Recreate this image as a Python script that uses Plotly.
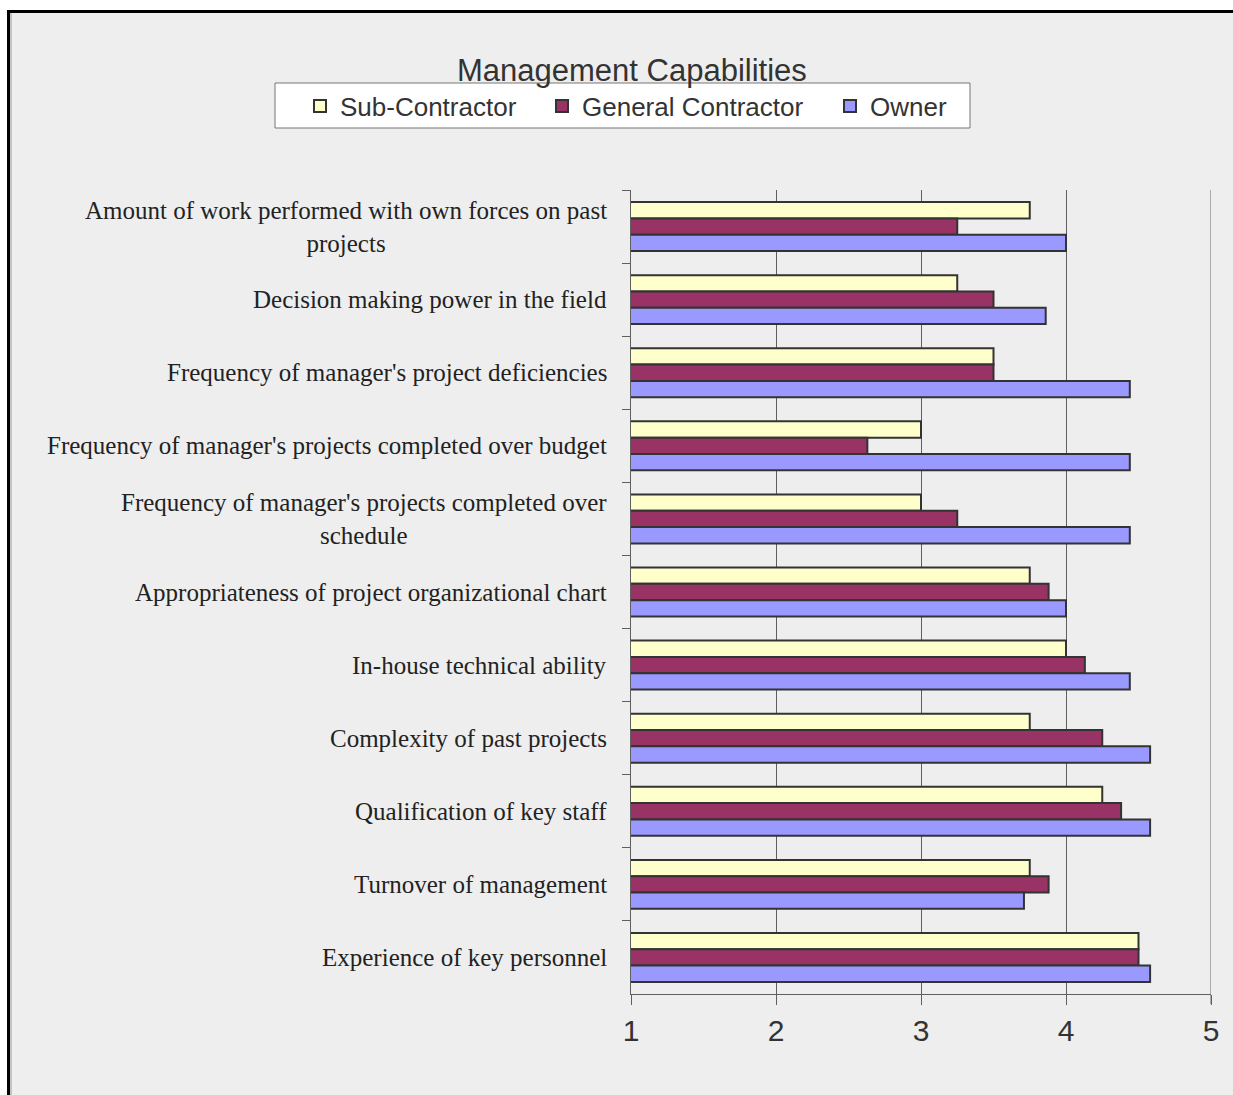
import plotly.graph_objects as go

# Rating categories, top to bottom
categories = [
    "Amount of work performed with own forces on past<br>projects",
    "Decision making power in the field",
    "Frequency of manager's project deficiencies",
    "Frequency of manager's projects completed over budget",
    "Frequency of manager's projects completed over<br>schedule",
    "Appropriateness of project organizational chart",
    "In-house technical ability",
    "Complexity of past projects",
    "Qualification of key staff",
    "Turnover of management",
    "Experience of key personnel",
]

sub_contractor = [3.75, 3.25, 3.5, 3.0, 3.0, 3.75, 4.0, 3.75, 4.25, 3.75, 4.5]
general_contractor = [3.25, 3.5, 3.5, 2.63, 3.25, 3.88, 4.13, 4.25, 4.38, 3.88, 4.5]
owner = [4.0, 3.86, 4.44, 4.44, 4.44, 4.0, 4.44, 4.58, 4.58, 3.71, 4.58]

series_names = ["Sub-Contractor", "General Contractor", "Owner"]
series_colors = ["#FFFFCC", "#993366", "#9999FF"]
legend_widths = [197, 243, 90]
x_ticks = [1, 2, 3, 4, 5]

W, H = 1233, 1095
L, R, T, B = 631, 22, 190, 101
PW, PH = W - L - R, H - T - B


def px_x(p):
    return (p - L) / PW


def px_y(p):
    return (H - B - p) / PH


fig = go.Figure()
for name, vals, col, lw in zip(series_names, [sub_contractor, general_contractor, owner],
                               series_colors, legend_widths):
    fig.add_trace(go.Bar(
        name=name, y=categories, x=vals, orientation="h",
        marker=dict(color=col, line=dict(color="#333333", width=2)),
        legendwidth=lw,
    ))

# category labels (centred multi-line text, right-aligned block)
annotations = [
    dict(text=c, x=px_x(609), xref="paper", y=c, yref="y", xanchor="right",
         yanchor="middle", align="center", showarrow=False,
         font=dict(family="Liberation Serif", size=25, color="#222222"))
    for c in categories
]
annotations.append(dict(
    text="Management Capabilities", x=px_x(632), y=px_y(70), xref="paper", yref="paper",
    xanchor="center", yanchor="middle", showarrow=False,
    font=dict(family="Liberation Sans", size=31, color="#333333")))

shapes = [
    # outer frame
    dict(type="rect", xref="paper", yref="paper", x0=px_x(8.5), x1=px_x(1260),
         y0=px_y(1120), y1=px_y(11.5), line=dict(color="black", width=3),
         fillcolor="#EEEEEE", layer="below"),
    dict(type="line", xref="paper", yref="paper", x0=px_x(11), x1=px_x(11),
         y0=px_y(1120), y1=px_y(13), line=dict(color="#999999", width=1), layer="below"),
    # legend box
    dict(type="rect", xref="paper", yref="paper", x0=px_x(275), x1=px_x(970),
         y0=px_y(128), y1=px_y(83), line=dict(color="#777777", width=1),
         fillcolor="white", layer="below"),
    # right edge line at x = 5
    dict(type="line", xref="x", yref="paper", x0=5, x1=5, y0=px_y(1004), y1=1,
         line=dict(color="#666666", width=1)),
]

fig.update_layout(
    width=W, height=H,
    margin=dict(l=L, r=R, t=T, b=B),
    paper_bgcolor="white",
    plot_bgcolor="rgba(0,0,0,0)",
    barmode="group",
    bargap=0.33,
    bargroupgap=0,
    showlegend=True,
    legend=dict(orientation="h", x=px_x(300), y=px_y(106), xanchor="left", yanchor="middle",
                bgcolor="rgba(0,0,0,0)", borderwidth=0,
                font=dict(family="Liberation Sans", size=26, color="#333333"),
                traceorder="normal"),
    xaxis=dict(range=[1, 5], tickvals=x_ticks, showgrid=True, gridcolor="#5f5f5f", gridwidth=1,
               showline=True, linecolor="#5f5f5f", linewidth=1, zeroline=False,
               ticks="outside", ticklen=10, tickcolor="#5f5f5f",
               tickfont=dict(family="Liberation Sans", size=30, color="#333333")),
    yaxis=dict(type="category", autorange="reversed", showgrid=False, showline=True,
               linecolor="#5f5f5f", linewidth=1, ticks="outside", ticklen=8,
               tickcolor="#5f5f5f", tickson="boundaries", showticklabels=False),
    annotations=annotations,
    shapes=shapes,
)

fig.write_html("out.html")
